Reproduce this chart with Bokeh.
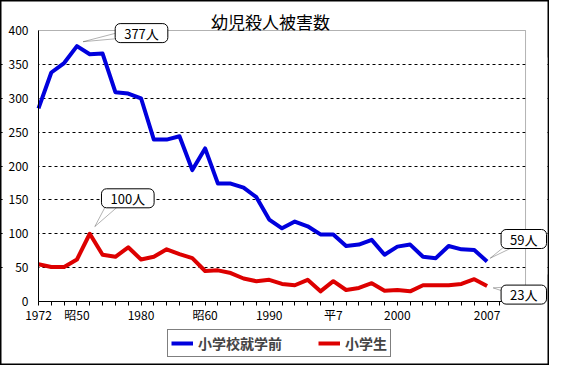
from bokeh.plotting import figure
from bokeh.models import Range1d, FixedTicker, Label, PolyAnnotation, BoxAnnotation, Legend, LegendItem
from bokeh.embed import file_html
from bokeh.resources import INLINE

# ---- data ----
years = list(range(1972, 2008))
preschool = [285, 338, 352, 377, 365, 366, 309, 307, 300, 239, 239, 244, 194, 226, 174, 174, 168, 154,
             121, 108, 118, 111, 99, 99, 82, 84, 91, 69, 81, 84, 66, 64, 82, 77, 76, 59]
elementary = [55, 51, 51, 62, 100, 69, 66, 80, 62, 66, 77, 70, 64, 45, 46, 42, 34, 30,
              32, 26, 24, 32, 15, 30, 17, 20, 27, 16, 17, 15, 24, 24, 24, 26, 33, 23]
series_names = ["小学校就学前", "小学生"]
tick_years = [1972, 1975, 1980, 1985, 1990, 1995, 2000, 2007]
tick_texts = ["1972", "昭50", "1980", "昭60", "1990", "平7", "2000", "2007"]
y_ticks = [0, 50, 100, 150, 200, 250, 300, 350, 400]
title_text = "幼児殺人被害数"

FONT = "Noto Sans CJK JP"
BLUE = "#0000dd"
RED = "#dd0000"

X0, X1 = 1972, 2010      # plot-area extent (data units)
Y0, Y1 = 0, 400

# the frame covers the whole canvas; axes are pinned at the plot-area edges
p = figure(width=549, height=365, output_backend="svg", toolbar_location=None,
           x_range=Range1d(1969.035, 2011.87), y_range=Range1d(-94.46, 444.3),
           min_border_left=0, min_border_right=0, min_border_top=0, min_border_bottom=0)
p.background_fill_color = None
p.border_fill_color = None
p.outline_line_color = None
p.styles = {"box-shadow": "inset 0 0 0 1.5px black", "background-color": "white"}

# axes
p.xaxis.fixed_location = Y0
p.yaxis.fixed_location = X0
p.xaxis.ticker = FixedTicker(ticks=list(range(1972, 2009)))
lab = dict(zip(tick_years, tick_texts))
p.xaxis.major_label_overrides = {y: lab.get(y, "") for y in range(1972, 2009)}
p.xaxis.bounds = (X0, X1)
p.xaxis.major_tick_out = 4
p.xaxis.major_tick_in = 0
p.xaxis.minor_tick_out = 0
p.xaxis.minor_tick_in = 0
p.xaxis.major_label_standoff = 0
p.yaxis.ticker = FixedTicker(ticks=y_ticks)
p.yaxis.bounds = (Y0, Y1)
p.yaxis.major_tick_out = 0
p.yaxis.major_tick_in = 0
p.yaxis.minor_tick_out = 0
p.yaxis.minor_tick_in = 0
p.yaxis.major_label_standoff = 10
for ax in (p.xaxis, p.yaxis):
    ax.axis_line_color = "black"
    ax.major_tick_line_color = "black"
    ax.major_label_text_font = FONT
    ax.major_label_text_font_size = "12px"
    ax.major_label_text_color = "black"

p.xgrid.visible = False
p.ygrid.ticker = FixedTicker(ticks=y_ticks[1:-1])
p.ygrid.grid_line_color = "black"
p.ygrid.grid_line_dash = "3 3"
p.ygrid.grid_line_width = 1

# hide the grid outside the plot area
p.add_layout(BoxAnnotation(left=1969.2, right=X0, bottom=40, top=360, fill_color="white",
                           fill_alpha=1, line_color=None, level="underlay"))
p.add_layout(BoxAnnotation(left=X1, right=2011.7, bottom=40, top=360, fill_color="white",
                           fill_alpha=1, line_color=None, level="underlay"))

r1 = p.line(years, preschool, line_color=BLUE, line_width=4, line_join="round")
r2 = p.line(years, elementary, line_color=RED, line_width=4, line_join="round")

# plot-area border
p.add_layout(BoxAnnotation(left=X0, right=X1, bottom=Y0, top=Y1, fill_alpha=0,
                           line_color="black", line_width=1))

legend = Legend(items=[LegendItem(label=series_names[0], renderers=[r1]),
                       LegendItem(label=series_names[1], renderers=[r2])],
                orientation="horizontal", location=(167, 8),
                border_line_color="black", border_line_width=1.5,
                background_fill_color="white", background_fill_alpha=1,
                padding=3, spacing=36, margin=0, glyph_width=22, glyph_height=16,
                label_standoff=5, label_text_font=FONT, label_text_font_size="14px",
                label_text_font_style="bold", label_height=16)
p.add_layout(legend, "center")

# title
p.add_layout(Label(x=270, y=344, x_units="screen", y_units="screen", text=title_text,
                   text_align="center", text_baseline="middle", text_font=FONT,
                   text_font_size="17px", text_color="black"))


def wedge(tip, base):
    xs = [tip[0], base[0][0], base[1][0]]
    ys = [tip[1], base[0][1], base[1][1]]
    p.add_layout(PolyAnnotation(xs=xs, ys=ys, xs_units="screen", ys_units="screen",
                                fill_color="white", fill_alpha=1, line_color="black", line_width=1))


def box(center, text):
    p.add_layout(Label(x=center[0], y=center[1], x_units="screen", y_units="screen", text=text,
                       text_align="center", text_baseline="middle", text_font=FONT,
                       text_font_size="13px", text_color="black",
                       background_fill_color="white", background_fill_alpha=1,
                       border_line_color="black", border_line_width=1,
                       border_radius=5, padding=(9, 0)))


wedge((82.6, 323.8), ((118, 333), (118, 327)))
wedge((94.3, 138.9), ((107, 163), (122, 163)))
wedge((489.7, 107.3), ((504, 119), (516, 120)))
wedge((492.7, 77.6), ((507, 78.6), (507, 72.8)))

box((141, 332.4), f"{max(preschool)}人")
box((127.3, 167.2), f"{max(elementary)}人")
box((523.3, 126.5), f"{preschool[-1]}人")
box((523.3, 70.9), f"{elementary[-1]}人")

open("out.html", "w").write(file_html(p, INLINE))
